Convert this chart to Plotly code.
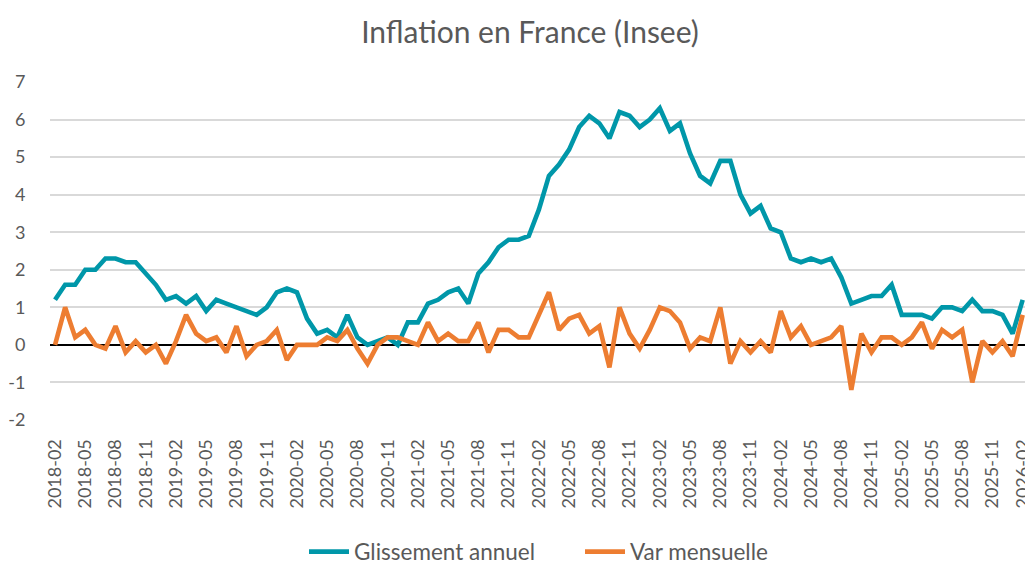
import plotly.graph_objects as go

# Monthly dates 2018-02 .. 2026-02
months = []
y, m = 2018, 2
while (y, m) <= (2026, 2):
    months.append(f"{y}-{m:02d}")
    m += 1
    if m > 12:
        m = 1
        y += 1

glissement_annuel = [
    1.2, 1.6, 1.6, 2.0, 2.0, 2.3, 2.3, 2.2, 2.2, 1.9, 1.6, 1.2,
    1.3, 1.1, 1.3, 0.9, 1.2, 1.1, 1.0, 0.9, 0.8, 1.0, 1.4, 1.5,
    1.4, 0.7, 0.3, 0.4, 0.2, 0.8, 0.2, 0.0, 0.1, 0.2, 0.0, 0.6,
    0.6, 1.1, 1.2, 1.4, 1.5, 1.1, 1.9, 2.2, 2.6, 2.8, 2.8, 2.9,
    3.6, 4.5, 4.8, 5.2, 5.8, 6.1, 5.9, 5.5, 6.2, 6.1, 5.8, 6.0,
    6.3, 5.7, 5.9, 5.1, 4.5, 4.3, 4.9, 4.9, 4.0, 3.5, 3.7, 3.1,
    3.0, 2.3, 2.2, 2.3, 2.2, 2.3, 1.8, 1.1, 1.2, 1.3, 1.3, 1.6,
    0.8, 0.8, 0.8, 0.7, 1.0, 1.0, 0.9, 1.2, 0.9, 0.9, 0.8, 0.3,
    1.2,
]

var_mensuelle = [
    0.0, 1.0, 0.2, 0.4, 0.0, -0.1, 0.5, -0.2, 0.1, -0.2, 0.0, -0.5,
    0.1, 0.8, 0.3, 0.1, 0.2, -0.2, 0.5, -0.3, 0.0, 0.1, 0.4, -0.4,
    0.0, 0.0, 0.0, 0.2, 0.1, 0.4, -0.1, -0.5, 0.0, 0.2, 0.2, 0.1,
    0.0, 0.6, 0.1, 0.3, 0.1, 0.1, 0.6, -0.2, 0.4, 0.4, 0.2, 0.2,
    0.8, 1.4, 0.4, 0.7, 0.8, 0.3, 0.5, -0.6, 1.0, 0.3, -0.1, 0.4,
    1.0, 0.9, 0.6, -0.1, 0.2, 0.1, 1.0, -0.5, 0.1, -0.2, 0.1, -0.2,
    0.9, 0.2, 0.5, 0.0, 0.1, 0.2, 0.5, -1.2, 0.3, -0.2, 0.2, 0.2,
    0.0, 0.2, 0.6, -0.1, 0.4, 0.2, 0.4, -1.0, 0.1, -0.2, 0.1, -0.3,
    0.8,
]

tick_labels = months[::3]
y_ticks = [-2, -1, 0, 1, 2, 3, 4, 5, 6, 7]
y_tick_text = [str(v) for v in y_ticks]  # ASCII hyphen like the reference

TEAL = "#0097A9"
ORANGE = "#ED7D31"
TXT = "#595959"
FONT = "Lato"

W, H = 1025, 564

fig = go.Figure()
fig.add_trace(go.Scatter(x=months, y=glissement_annuel, mode="lines",
                         name="Glissement annuel",
                         line=dict(color=TEAL, width=4.6)))
fig.add_trace(go.Scatter(x=months, y=var_mensuelle, mode="lines",
                         name="Var mensuelle",
                         line=dict(color=ORANGE, width=4.6)))

fig.update_layout(
    width=W, height=H,
    margin=dict(l=50, r=0, t=82, b=564 - 420, autoexpand=False),
    paper_bgcolor="white", plot_bgcolor="white",
    font=dict(family=FONT, color=TXT, size=18),
    title=dict(text="Inflation en France (Insee)", x=530 / W, xref="container",
               xanchor="center", y=1 - 32 / H, yref="container", yanchor="middle",
               font=dict(family=FONT, size=30, color=TXT)),
    showlegend=True,
    legend=dict(orientation="h", xref="container", x=304 / W, xanchor="left",
                yref="container", y=1 - 552 / H, yanchor="middle",
                font=dict(family=FONT, size=22.5, color=TXT),
                itemwidth=40, tracegroupgap=0,
                entrywidth=221, entrywidthmode="pixels"),
    xaxis=dict(type="category", categoryorder="array", categoryarray=months,
               range=[-0.5, 96.23], automargin=False,
               tickmode="array", tickvals=tick_labels, ticktext=tick_labels,
               tickangle=-90, ticks="outside", ticklen=11,
               tickcolor="rgba(0,0,0,0)", showgrid=False, showline=False,
               zeroline=False, tickfont=dict(family=FONT, size=18, color=TXT)),
    yaxis=dict(range=[-2, 7], tickmode="array", tickvals=y_ticks,
               ticktext=y_tick_text, automargin=False,
               showgrid=True, gridcolor="#D9D9D9", gridwidth=1.5,
               zeroline=True, zerolinecolor="black", zerolinewidth=2,
               showline=False, ticks="outside", ticklen=20,
               tickcolor="rgba(0,0,0,0)",
               tickfont=dict(family=FONT, size=18, color=TXT)),
)

fig.write_html("out.html",
               config={"displayModeBar": False},
               post_script="document.body.style.margin='0';document.body.style.overflow='hidden';")
